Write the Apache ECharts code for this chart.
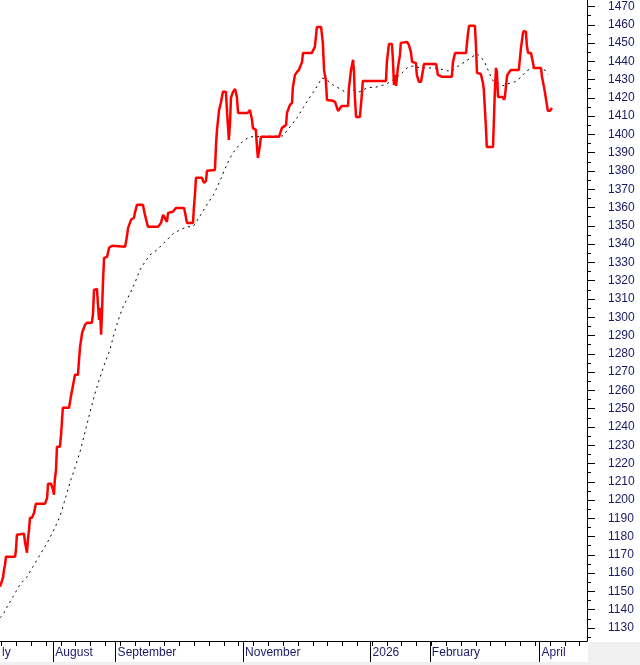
<!DOCTYPE html>
<html>
<head>
<meta charset="utf-8">
<script src="https://cdn.jsdelivr.net/npm/echarts@6/dist/echarts.min.js"></script>
<style>
html,body{margin:0;padding:0;background:#ffffff;}
#c{width:640px;height:665px;}
</style>
</head>
<body>
<div id="c"></div>
<script>
// x = trading-session index from the left edge of the chart
const monthStarts = [0, 18, 39, 82, 125, 145, 182];
const monthNames = ['ly', 'August', 'September', 'November', '2026', 'February', 'April'];
const weekTicks = [0.5,5.5,10.5,15.5,20.5,25.5,30.5,35.5,40.5,45.5,50.5,55.5,60.5,65.5,70.5,75.5,80.5,85.5,90.5,95.5,100.5,105.5,110.5,115.5,120.5,125.5,130.5,135.5,140.5,145.5,150.5,155.5,160.5,165.5,170.5,175.5,180.5,185.5,190.5,195.5];
const yMajor = [1130,1140,1150,1160,1170,1180,1190,1200,1210,1220,1230,1240,1250,1260,1270,1280,1290,1300,1310,1320,1330,1340,1350,1360,1370,1380,1390,1400,1410,1420,1430,1440,1450,1460,1470];
const yMinor = [1125,1135,1145,1155,1165,1175,1185,1195,1205,1215,1225,1235,1245,1255,1265,1275,1285,1295,1305,1315,1325,1335,1345,1355,1365,1375,1385,1395,1405,1415,1425,1435,1445,1455,1465];

const price = [[0,1152.6],[1.0,1157.5],[1.3,1161.3],[1.7,1164.6],[2.0,1169.0],[5.1,1169.0],[5.4,1172.8],[5.7,1181.0],[8.1,1181.6],[8.4,1177.2],[9.1,1171.2],[9.4,1178.3],[9.8,1183.7],[10.1,1190.3],[10.8,1190.3],[11.5,1193.0],[12.1,1198.0],[15.2,1198.0],[15.9,1201.2],[16.2,1208.9],[17.2,1208.9],[17.9,1205.6],[18.2,1202.9],[18.5,1211.1],[18.9,1216.6],[19.2,1229.1],[20.2,1229.1],[20.6,1235.7],[21.2,1250.5],[23.3,1250.5],[23.9,1256.5],[24.6,1262.5],[25.3,1268.5],[26.3,1268.5],[26.6,1275.6],[27.0,1283.8],[27.7,1291.5],[28.0,1292.0],[28.7,1295.9],[29.3,1297.0],[31.0,1297.0],[31.4,1302.4],[31.7,1315.0],[32.7,1315.5],[33.1,1305.7],[33.4,1298.6],[33.7,1305.2],[34.1,1290.4],[34.4,1302.4],[34.7,1317.7],[35.1,1332.5],[36.1,1333.0],[36.8,1338.0],[37.8,1339.1],[42.2,1338.5],[42.8,1344.0],[43.2,1348.9],[44.2,1353.3],[45.2,1354.4],[45.5,1357.1],[46.2,1361.5],[48.2,1361.5],[48.9,1356.0],[49.9,1349.5],[53.3,1349.5],[54.3,1351.6],[55.0,1356.0],[55.6,1354.4],[56.3,1352.2],[56.7,1357.1],[58.3,1357.7],[59.4,1359.8],[62.1,1359.8],[62.7,1354.9],[63.1,1351.6],[65.1,1351.6],[65.4,1359.8],[65.8,1368.0],[66.1,1376.3],[68.1,1376.3],[68.8,1373.5],[69.5,1374.6],[69.8,1380.1],[72.5,1380.6],[72.9,1395.4],[73.2,1402.5],[73.9,1413.4],[74.5,1417.3],[75.2,1423.3],[76.2,1423.3],[76.6,1411.8],[77.2,1397.0],[77.6,1406.9],[77.9,1420.0],[78.6,1423.3],[79.3,1424.9],[79.9,1420.5],[80.3,1411.8],[83.6,1411.8],[84.3,1413.4],[85.0,1408.0],[85.3,1403.6],[86.3,1402.5],[86.7,1392.7],[87.0,1387.2],[87.7,1394.3],[88.0,1398.7],[94.1,1398.7],[95.1,1403.6],[96.5,1405.2],[96.8,1411.8],[97.8,1416.2],[98.5,1417.3],[98.8,1426.0],[99.5,1432.6],[100.2,1434.2],[100.8,1435.3],[101.9,1439.7],[102.2,1444.6],[105.2,1444.6],[106.2,1447.9],[106.9,1458.8],[108.3,1458.8],[108.9,1450.1],[109.3,1435.3],[109.9,1429.8],[110.3,1418.9],[112.3,1418.4],[113.0,1417.8],[113.7,1414.5],[114.0,1412.9],[115.3,1415.6],[117.4,1415.6],[117.7,1425.5],[118.4,1435.3],[119.1,1440.8],[119.4,1434.2],[119.7,1420.5],[120.1,1409.6],[121.4,1409.6],[122.1,1422.7],[122.4,1429.3],[130.2,1429.3],[130.5,1439.7],[131.2,1449.5],[132.2,1449.5],[132.5,1441.9],[132.9,1427.1],[133.2,1432.6],[133.6,1426.6],[134.2,1436.4],[134.9,1443.5],[135.2,1450.1],[135.6,1450.6],[137.3,1450.6],[137.9,1449.0],[138.6,1445.2],[139.0,1439.7],[140.3,1439.1],[140.6,1432.6],[141.3,1428.8],[142.0,1428.8],[142.7,1435.3],[143.0,1438.6],[147.1,1438.6],[147.7,1432.6],[149.1,1431.5],[152.4,1431.5],[152.8,1439.7],[153.5,1444.6],[157.2,1444.6],[157.8,1454.5],[158.2,1459.4],[160.2,1459.4],[160.5,1450.1],[160.9,1433.7],[162.2,1433.1],[162.9,1428.2],[163.2,1424.4],[163.9,1404.1],[164.2,1393.2],[166.3,1393.2],[166.6,1408.0],[166.9,1422.7],[167.3,1436.4],[167.6,1434.2],[168.0,1420.5],[169.6,1420.5],[170.0,1418.9],[170.3,1420.5],[171.0,1431.5],[171.3,1433.1],[172.3,1435.3],[175.0,1435.3],[175.7,1446.8],[176.4,1455.5],[176.7,1456.6],[177.4,1456.1],[177.7,1449.0],[178.1,1444.6],[179.1,1444.6],[179.8,1439.1],[180.1,1436.4],[182.5,1436.4],[182.8,1431.5],[183.5,1426.0],[184.1,1420.0],[184.8,1412.9],[185.5,1412.9],[186.2,1414.5]];

const movingAvg = [[0,1135.6],[1.0,1137.3],[2.4,1141.6],[4.4,1147.1],[6.7,1153.7],[9.1,1158.0],[11.1,1163.5],[13.5,1170.1],[15.9,1176.6],[17.9,1182.7],[20.2,1190.9],[21.2,1196.3],[22.6,1204.0],[23.9,1211.1],[25.3,1217.7],[27.0,1226.4],[28.7,1237.3],[30.4,1248.3],[32.0,1258.1],[33.7,1266.9],[35.4,1275.1],[37.1,1282.2],[38.1,1288.7],[39.8,1298.0],[41.5,1305.7],[43.8,1312.8],[45.5,1318.8],[47.2,1325.9],[48.9,1330.3],[50.6,1334.1],[53.0,1336.9],[55.0,1340.2],[56.7,1342.9],[58.3,1345.6],[60.7,1347.8],[63.1,1349.5],[65.1,1349.5],[67.5,1355.5],[70.2,1362.6],[72.2,1367.5],[74.2,1374.6],[75.9,1381.2],[77.6,1387.2],[79.3,1391.6],[80.9,1394.8],[82.6,1397.0],[84.3,1398.7],[95.4,1399.2],[97.8,1404.1],[100.2,1409.1],[102.2,1414.5],[103.9,1418.9],[106.2,1424.4],[108.6,1430.9],[110.3,1429.8],[112.3,1427.1],[114.7,1424.9],[117.0,1422.7],[119.1,1424.4],[121.4,1423.3],[123.8,1425.5],[127.2,1426.0],[130.5,1427.7],[132.5,1429.8],[134.9,1432.6],[137.3,1436.4],[139.3,1437.5],[141.7,1436.4],[146.0,1436.4],[148.4,1435.9],[150.8,1434.8],[152.4,1434.8],[154.1,1436.9],[156.8,1439.7],[159.2,1442.4],[160.9,1444.1],[162.2,1442.4],[163.6,1439.1],[165.3,1432.6],[166.3,1429.3],[168.0,1428.2],[169.6,1426.6],[171.3,1427.7],[173.7,1428.8],[175.4,1430.9],[177.7,1434.8],[179.4,1436.4],[182.1,1436.4],[183.8,1435.3],[184.8,1432.6]];

const labelColor = '#1a1a66';
const font = "'Liberation Sans', Arial, sans-serif";
const yMin = 1122.89, yMax = 1473.55;

const chart = echarts.init(document.getElementById('c'), null, {renderer: 'canvas'});
chart.setOption({
  backgroundColor: '#ffffff',
  animation: false,
  grid: {left: 0, right: 53, top: 0, bottom: 24, outerBoundsMode: 'none', containLabel: false},
  xAxis: [
    {
      type: 'value', min: 0, max: 198, position: 'bottom',
      axisLine: {show: true, onZero: false, lineStyle: {color: '#000', width: 1}},
      axisTick: {show: true, length: 5, customValues: weekTicks, lineStyle: {color: '#000'}},
      axisLabel: {
        show: true, customValues: monthStarts, margin: 6, align: 'left',
        color: labelColor, fontFamily: font, fontSize: 12,
        formatter: function (v) { const i = monthStarts.indexOf(v); return i >= 0 ? monthNames[i] : ''; },
        padding: [0, 0, 0, 2]
      },
      splitLine: {show: false}
    },
    {
      type: 'value', min: 0, max: 198, position: 'bottom',
      axisLine: {show: false, onZero: false},
      axisTick: {show: true, length: 21, customValues: monthStarts.slice(1), lineStyle: {color: '#000'}},
      axisLabel: {show: false},
      splitLine: {show: false}
    }
  ],
  yAxis: [
    {
      type: 'value', min: yMin, max: yMax, position: 'right',
      axisLine: {show: true, onZero: false, lineStyle: {color: '#000', width: 1}},
      axisTick: {show: true, length: 8, customValues: yMajor, lineStyle: {color: '#000'}},
      axisLabel: {show: true, customValues: yMajor, margin: 21, color: labelColor, fontFamily: font, fontSize: 12,
        formatter: function (v) { return String(Math.round(v)); }},
      splitLine: {show: false}
    },
    {
      type: 'value', min: yMin, max: yMax, position: 'right',
      axisLine: {show: false, onZero: false},
      axisTick: {show: true, length: 4, customValues: yMinor, lineStyle: {color: '#000'}},
      axisLabel: {show: false},
      splitLine: {show: false}
    }
  ],
  graphic: {
    elements: [
      {type: 'rect', left: 588, top: 642, shape: {width: 52, height: 23}, style: {fill: '#f0f0f0'}, silent: true},
      {type: 'rect', left: 0, top: 662, shape: {width: 588, height: 3}, style: {fill: '#f0f0f0'}, silent: true}
    ]
  },
  series: [
    {
      name: 'MA', type: 'line', xAxisIndex: 0, yAxisIndex: 0, data: movingAvg,
      showSymbol: false, symbol: 'none', smooth: false, z: 2,
      lineStyle: {color: '#000000', width: 1, type: [2, 4]}
    },
    {
      name: 'Price', type: 'line', xAxisIndex: 0, yAxisIndex: 0, data: price,
      showSymbol: false, symbol: 'none', smooth: false, z: 3,
      lineStyle: {color: '#ff0000', width: 2.5}
    }
  ]
});
</script>
</body>
</html>
